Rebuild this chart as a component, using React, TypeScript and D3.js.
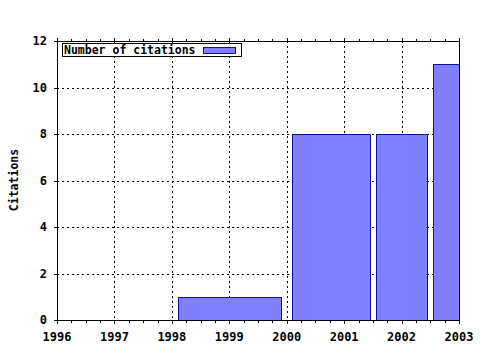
import React from "react";
import * as d3 from "d3";

const years = [1999, 2001, 2002, 2003];
const citations = [1, 8, 8, 11];
const xTicks = [1996, 1997, 1998, 1999, 2000, 2001, 2002, 2003];
const yTicks = [0, 2, 4, 6, 8, 10, 12];
const seriesName = "Number of citations";
const yTitle = "Citations";

const W = 480, H = 350;
const L = 57, R = 459, T = 41, B = 320;
const FONT = "'DejaVu Sans Mono', monospace";
const FILL = "#8080ff";
const STROKE = "#1010a0";
const BOXREL = 0.9;

export default function App() {
  const x = d3.scaleLinear().domain([1996, 2003]).range([L, R]);
  const y = d3.scaleLinear().domain([0, 12]).range([B, T]);

  const boxes = years.map((yr, i) => {
    const prev = i > 0 ? years[i - 1] : null;
    const next = i < years.length - 1 ? years[i + 1] : null;
    const dl = prev !== null ? (yr - prev) / 2 : (next! - yr) / 2;
    const dr = next !== null ? (next - yr) / 2 : (yr - prev!) / 2;
    return { x0: yr - dl * BOXREL, x1: yr + dr * BOXREL, v: citations[i] };
  });

  const minor: number[] = [];
  for (let i = 0; i < xTicks.length - 1; i++) {
    for (let k = 1; k < 4; k++) minor.push(xTicks[i] + k * 0.25);
  }

  return (
    <svg width={W} height={H} style={{ position: "absolute", left: 0, top: 0, background: "#fff" }}>
      <defs>
        <clipPath id="plotclip">
          <rect x={L} y={T} width={R - L} height={B - T} />
        </clipPath>
      </defs>
      <rect x={0} y={0} width={W} height={H} fill="#fff" />
      {/* grid */}
      <g stroke="#000" strokeWidth={1} strokeDasharray="2,3" shapeRendering="crispEdges">
        {xTicks.slice(1, -1).map((t) => (
          <line key={"gx" + t} x1={Math.round(x(t)) + 0.5} x2={Math.round(x(t)) + 0.5} y1={T} y2={B} />
        ))}
        {yTicks.slice(1, -1).map((t) => (
          <line key={"gy" + t} x1={L} x2={R} y1={Math.round(y(t)) + 0.5} y2={Math.round(y(t)) + 0.5} />
        ))}
      </g>
      {/* bars */}
      <g clipPath="url(#plotclip)" shapeRendering="crispEdges">
        {boxes.map((b, i) => (
          <rect
            key={i}
            x={Math.round(x(b.x0)) + 0.5}
            y={Math.round(y(b.v)) + 0.5}
            width={Math.round(x(b.x1)) - Math.round(x(b.x0))}
            height={Math.round(y(0)) - Math.round(y(b.v))}
            fill={FILL}
            stroke={STROKE}
            strokeWidth={1}
          />
        ))}
      </g>
      {/* border */}
      <rect x={L + 0.5} y={T + 0.5} width={R - L} height={B - T} fill="none" stroke="#000" strokeWidth={1} shapeRendering="crispEdges" />
      {/* ticks */}
      <g stroke="#000" strokeWidth={1} shapeRendering="crispEdges">
        {xTicks.map((t) => (
          <g key={"tx" + t}>
            <line x1={Math.round(x(t)) + 0.5} x2={Math.round(x(t)) + 0.5} y1={B} y2={B + 4} />
            <line x1={Math.round(x(t)) + 0.5} x2={Math.round(x(t)) + 0.5} y1={T} y2={T - 3} />
          </g>
        ))}
        {minor.map((t) => (
          <g key={"mx" + t}>
            <line x1={Math.round(x(t)) + 0.5} x2={Math.round(x(t)) + 0.5} y1={B} y2={B + 3} />
            <line x1={Math.round(x(t)) + 0.5} x2={Math.round(x(t)) + 0.5} y1={T} y2={T - 2} />
          </g>
        ))}
        {yTicks.map((t) => (
          <line key={"ty" + t} x1={L - 3} x2={L} y1={Math.round(y(t)) + 0.5} y2={Math.round(y(t)) + 0.5} />
        ))}
      </g>
      {/* tick labels */}
      <g fontFamily={FONT} fontWeight="bold" fontSize={12} fill="#000">
        {xTicks.map((t) => (
          <text key={"lx" + t} x={x(t)} y={341} textAnchor="middle">{t}</text>
        ))}
        {yTicks.map((t) => (
          <text key={"ly" + t} x={47} y={y(t) + 4} textAnchor="end">{t}</text>
        ))}
        <text transform={`translate(18,180) rotate(-90)`} textAnchor="middle" fontSize={11.5}>{yTitle}</text>
      </g>
      {/* legend */}
      <rect x={62.5} y={43.5} width={179} height={13} fill="#fff" stroke="#000" strokeWidth={1} shapeRendering="crispEdges" />
      <text x={64} y={54} fontFamily={FONT} fontWeight="bold" fontSize={11.5} fill="#000">{seriesName}</text>
      <rect x={203.5} y={47.5} width={32} height={6} fill={FILL} stroke={STROKE} strokeWidth={1} shapeRendering="crispEdges" />
    </svg>
  );
}
